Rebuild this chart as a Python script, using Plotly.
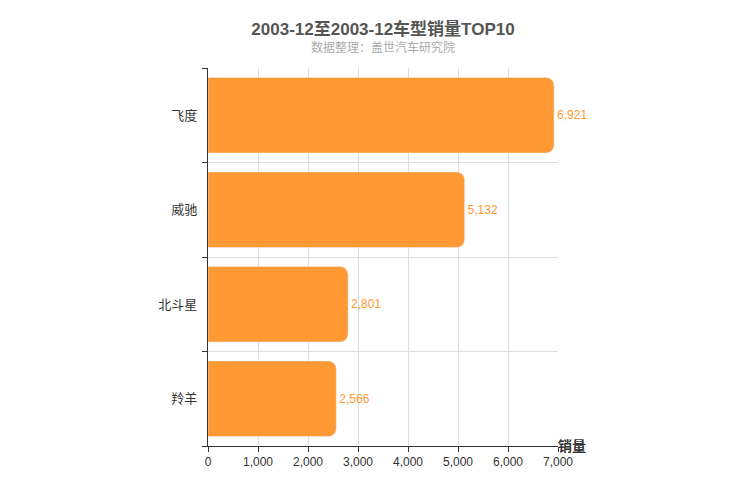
import plotly.graph_objects as go

models = ["羚羊", "北斗星", "威驰", "飞度"]
sales = [2566, 2801, 5132, 6921]
x_ticks = [0, 1000, 2000, 3000, 4000, 5000, 6000, 7000]

fig = go.Figure(go.Bar(
    x=sales, y=models, orientation="h",
    marker=dict(color="#ff9933", cornerradius=8),
    width=0.8,
    text=[f"{v:,}" for v in sales], textposition="outside",
    textfont=dict(color="#ff9933", size=12),
    cliponaxis=False,
))

fig.update_layout(
    width=750, height=500,
    paper_bgcolor="white", plot_bgcolor="white",
    font=dict(family="Liberation Sans, Noto Sans CJK SC, sans-serif", color="#333"),
    margin=dict(l=200, r=200, t=60, b=62, autoexpand=False),
    showlegend=False,
    title=dict(text="<b>2003-12至2003-12车型销量TOP10</b>", x=0.5, y=0.97,
               xanchor="center", font=dict(size=17, color="#555")),
    annotations=[
        dict(text="数据整理：盖世汽车研究院", x=0.5, y=1.053, xref="paper", yref="paper",
             xanchor="center", yanchor="middle", showarrow=False,
             font=dict(size=12, color="#aaa")),
        dict(text="<b>销量</b>", x=1, y=0, xref="paper", yref="paper", xshift=30,
             yanchor="middle", showarrow=False, font=dict(size=14, color="#333")),
    ],
    bargap=0.2,
)
fig.update_xaxes(range=[0, 7000], tickvals=x_ticks, tickformat=",",
                 showgrid=True, gridcolor="#ddd", showline=True, linecolor="#333",
                 ticks="outside", ticklen=5, tickcolor="#333", zeroline=False,
                 tickfont=dict(size=12, color="#333"))
fig.update_yaxes(showgrid=True, gridcolor="#ddd", tickson="boundaries",
                 showline=True, linecolor="#333", ticks="outside", ticklen=5,
                 tickcolor="#333", tickfont=dict(size=13, color="#333"),
                 ticksuffix="  ")

fig.write_html("out.html")
